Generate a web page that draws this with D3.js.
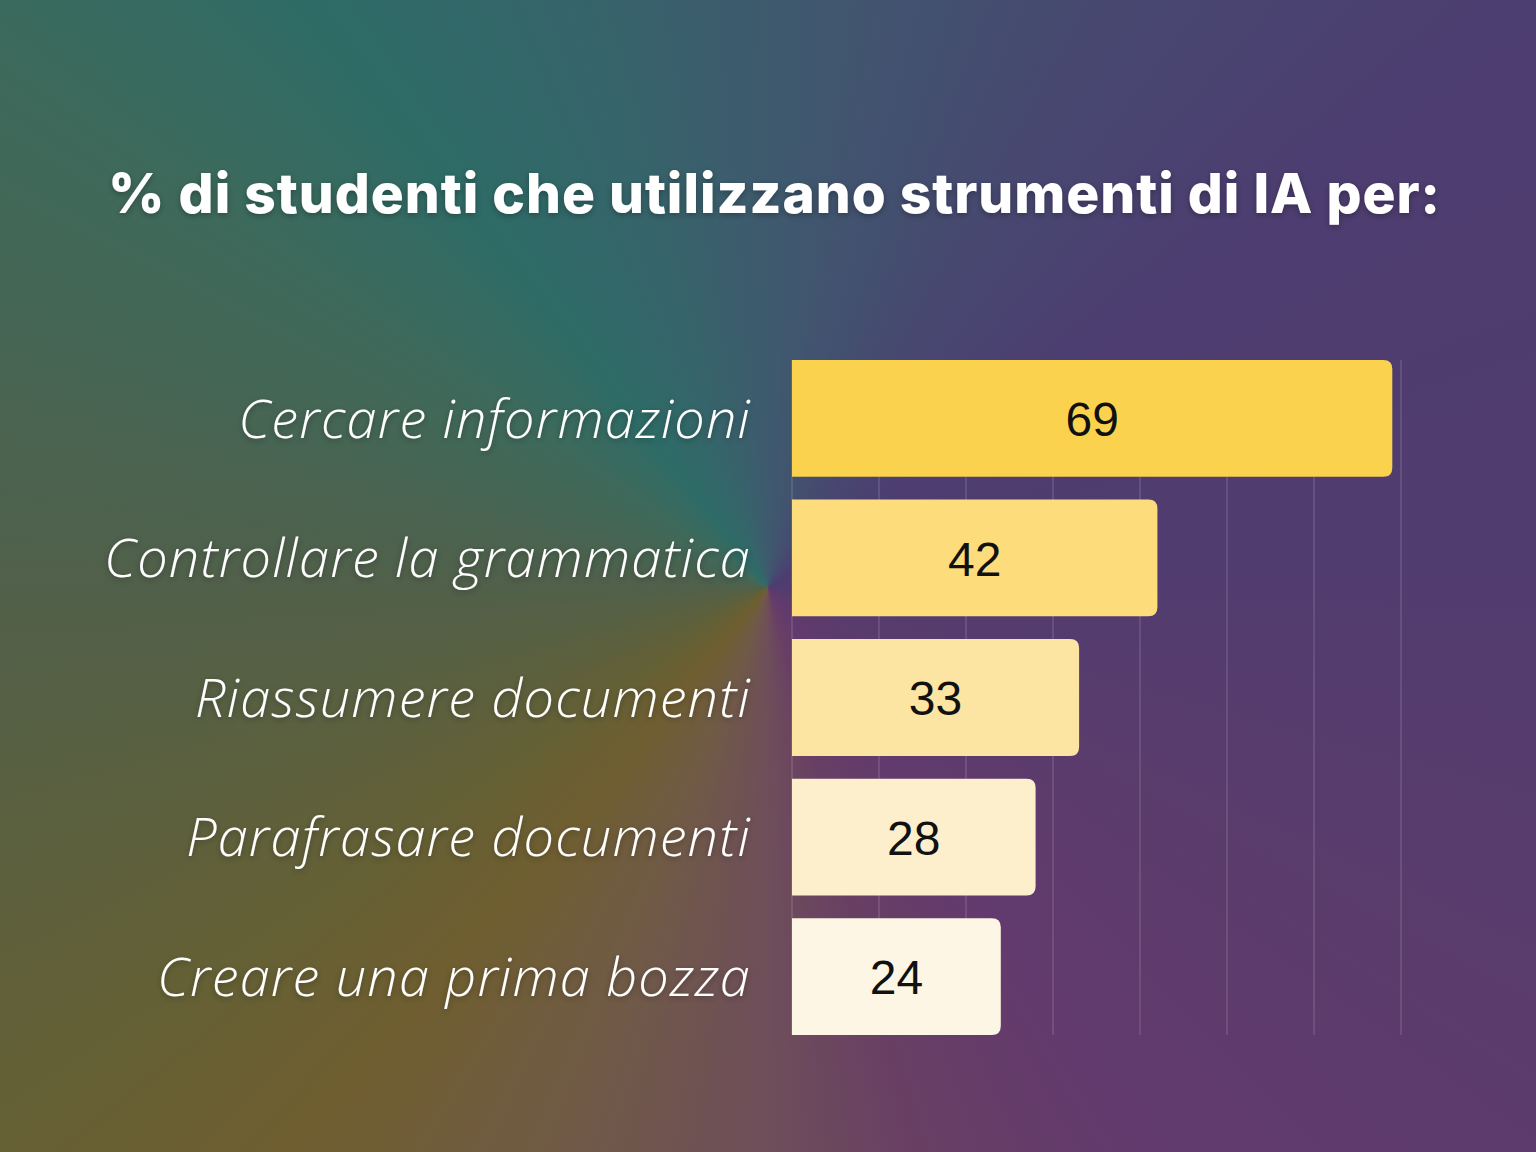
<!DOCTYPE html>
<html lang="it">
<head>
<meta charset="UTF-8">
<title>Strumenti di IA</title>
<script src="https://d3js.org/d3.v7.min.js"></script>
<style>
    body { margin: 0; }
    #chart {
        position: relative;
        width: 1536px;
        height: 1152px;
        overflow: hidden;
        background: conic-gradient(from 0deg at 768px 588px,
            #3e5a6e 0deg, #474870 30deg, #4d3d70 55deg, #523c6f 90deg,
            #5c3b6c 125deg, #623a6e 145deg, #683f64 165deg, #6e4e5a 180deg,
            #705a46 200deg, #6f5e30 220deg, #656035 235deg, #51604a 270deg,
            #3d6a5c 305deg, #2e6b66 322deg, #35656a 340deg, #3e5a6e 360deg);
    }
    #chart svg { position: absolute; left: 0; top: 0; }
</style>
</head>
<body>
<div id="chart"></div>
<script>
    // data
    const categories = ["Cercare informazioni", "Controllare la grammatica", "Riassumere documenti",
        "Parafrasare documenti", "Creare una prima bozza"];
    const values = [69, 42, 33, 28, 24];
    const barColors = ["#fbd24e", "#fddd7b", "#fce5a3", "#fdefcc", "#fef6e4"];
    const gridTicks = [0, 10, 20, 30, 40, 50, 60, 70];
    const title = "% di studenti che utilizzano strumenti di IA per:";

    const width = 1536, height = 1152;

    const svg = d3.select("#chart").append("svg")
        .attr("width", width)
        .attr("height", height);

    // soft shadow for the white text
    const defs = svg.append("defs");
    const f = defs.append("filter").attr("id", "shadow")
        .attr("x", "-10%").attr("y", "-30%").attr("width", "120%").attr("height", "160%");
    f.append("feDropShadow").attr("dx", 0).attr("dy", 2).attr("stdDeviation", 3)
        .attr("flood-color", "#000").attr("flood-opacity", 0.3);

    const x = d3.scaleLinear().domain([0, 70]).range([792, 1401]);
    const y = d3.scaleBand().domain(categories).range([360, 1035]).paddingInner(0.163);

    // gridlines behind the bars
    svg.append("g")
        .selectAll("line")
        .data(gridTicks)
        .join("line")
        .attr("x1", d => x(d)).attr("x2", d => x(d))
        .attr("y1", y.range()[0]).attr("y2", y.range()[1])
        .attr("stroke", "#ffffff")
        .attr("stroke-opacity", 0.22)
        .attr("stroke-width", 1);

    // bars: square on the left, rounded on the right
    const r = 9;
    function barPath(d, i) {
        const x0 = x(0), x1 = x(d), y0 = y(categories[i]), h = y.bandwidth();
        return `M${x0},${y0} H${x1 - r} Q${x1},${y0} ${x1},${y0 + r} V${y0 + h - r} Q${x1},${y0 + h} ${x1 - r},${y0 + h} H${x0} Z`;
    }

    svg.append("g")
        .selectAll("path")
        .data(values)
        .join("path")
        .attr("d", barPath)
        .attr("fill", (d, i) => barColors[i]);

    // values in the bars
    svg.append("g")
        .selectAll("text")
        .data(values)
        .join("text")
        .attr("x", d => (x(0) + x(d)) / 2)
        .attr("y", (d, i) => y(categories[i]) + y.bandwidth() / 2)
        .attr("dy", "0.37em")
        .attr("text-anchor", "middle")
        .style("font-family", "'Liberation Sans', Arial, sans-serif")
        .style("font-size", "48px")
        .attr("fill", "#111")
        .text(d => d);

    // category labels
    svg.append("g")
        .attr("filter", "url(#shadow)")
        .selectAll("text")
        .data(categories)
        .join("text")
        .attr("x", 751)
        .attr("y", d => y(d) + y.bandwidth() / 2)
        .attr("dy", "0.36em")
        .attr("text-anchor", "end")
        .style("font-family", "'Open Sans', sans-serif")
        .style("font-style", "italic")
        .style("font-weight", 300)
        .style("font-size", "54px")
        .style("letter-spacing", "1.2px")
        .attr("fill", "#ffffff")
        .text(d => d);

    // title
    svg.append("text")
        .attr("filter", "url(#shadow)")
        .attr("x", 774)
        .attr("y", 213)
        .attr("text-anchor", "middle")
        .attr("textLength", 1332)
        .attr("lengthAdjust", "spacing")
        .style("font-family", "Inter, sans-serif")
        .style("font-weight", 800)
        .style("font-size", "55px")
        .attr("fill", "#ffffff")
        .text(title);
</script>
</body>
</html>
